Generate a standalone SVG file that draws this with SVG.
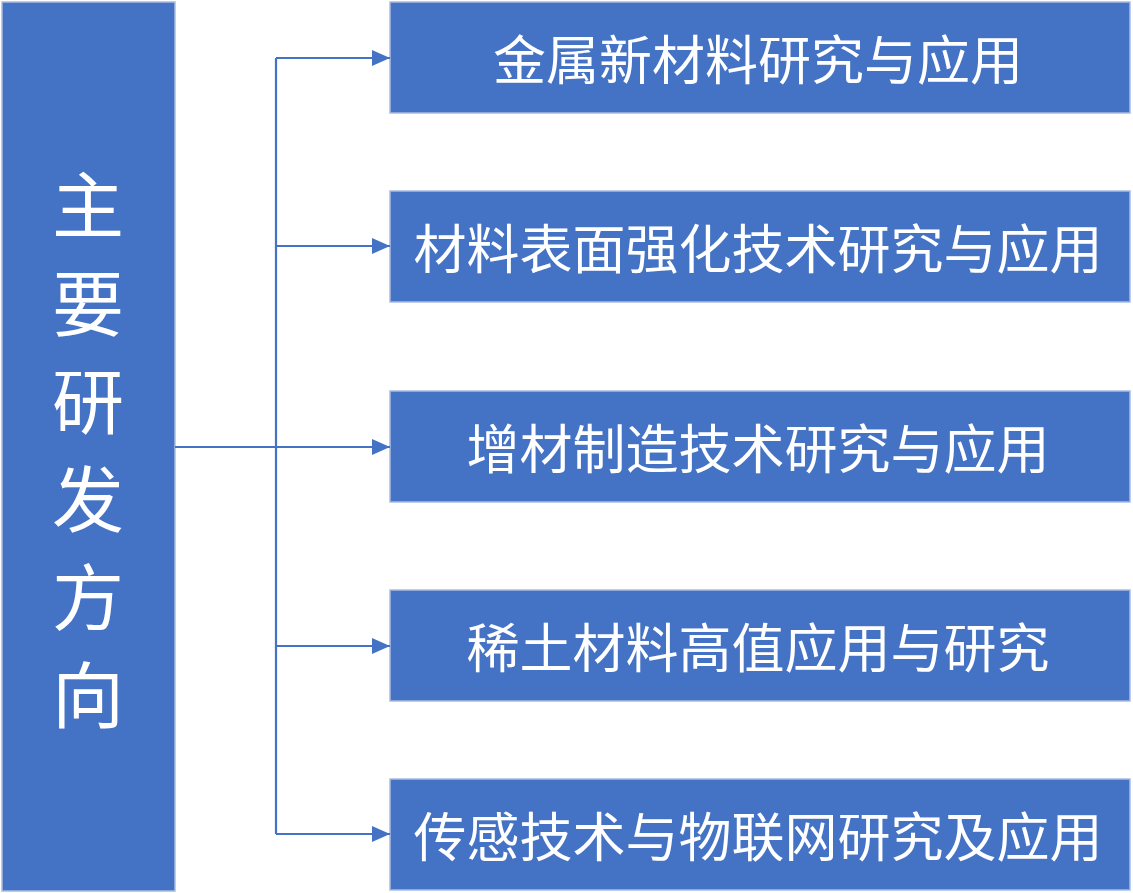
<svg xmlns="http://www.w3.org/2000/svg" width="1133" height="893" viewBox="0 0 1133 893">
<style>
.b{fill:#4472C4;stroke:#A9BCDF;stroke-width:1.5}
.t{fill:#fff;font-family:"Noto Sans CJK SC",sans-serif;font-size:53px;text-anchor:middle;dominant-baseline:central}
.v{font-size:72px}
.c{stroke:#4472C4;stroke-width:2.2;fill:none}
</style>
<defs><marker id="a" markerUnits="userSpaceOnUse" markerWidth="20" markerHeight="16" refX="18" refY="8" orient="auto"><path d="M0,0L18,8L0,16z" fill="#4472C4"/></marker></defs>
<rect width="1133" height="893" fill="#fff"/>
<g id="main"><rect class="b" x="2" y="2" width="173" height="889"/>
<text class="t v" x="88"><tspan x="88" y="200">主</tspan><tspan x="88" y="298">要</tspan><tspan x="88" y="396">研</tspan><tspan x="88" y="494">发</tspan><tspan x="88" y="592">方</tspan><tspan x="88" y="690">向</tspan></text></g>
<g id="n1"><rect class="b" x="390" y="2" width="740" height="111"/><text class="t" x="758" y="57">金属新材料研究与应用</text></g>
<g id="n2"><rect class="b" x="390" y="191" width="740" height="111"/><text class="t" x="758" y="246">材料表面强化技术研究与应用</text></g>
<g id="n3"><rect class="b" x="390" y="391" width="740" height="111"/><text class="t" x="758" y="446">增材制造技术研究与应用</text></g>
<g id="n4"><rect class="b" x="390" y="590" width="740" height="111"/><text class="t" x="758" y="645">稀土材料高值应用与研究</text></g>
<g id="n5"><rect class="b" x="390" y="779" width="740" height="111"/><text class="t" x="758" y="834">传感技术与物联网研究及应用</text></g>
<g id="connectors">
<path class="c" d="M175,447H276"/>
<path class="c" d="M276,58V834"/>
<path class="c" d="M276,58H390" marker-end="url(#a)"/>
<path class="c" d="M276,246H390" marker-end="url(#a)"/>
<path class="c" d="M276,447H390" marker-end="url(#a)"/>
<path class="c" d="M276,646H390" marker-end="url(#a)"/>
<path class="c" d="M276,834H390" marker-end="url(#a)"/>
</g>
</svg>
